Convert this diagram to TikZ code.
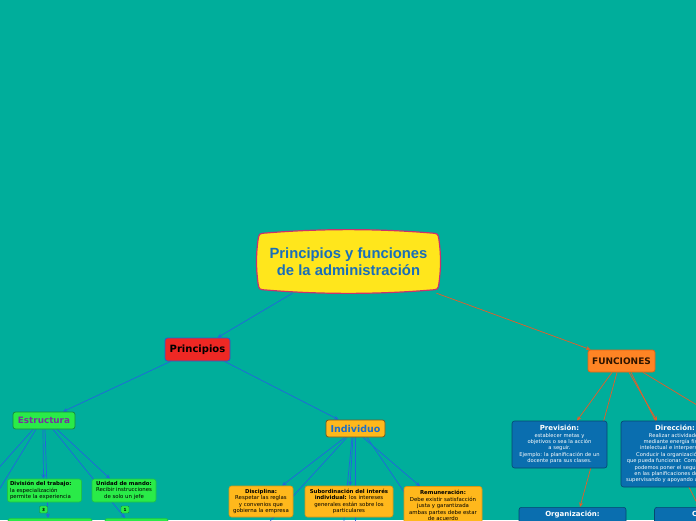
\documentclass[tikz,border=0pt]{standalone}
\usepackage{fontspec}
\setmainfont{DejaVu Sans}
\newfontfamily\rootfont{Liberation Sans}
\usetikzlibrary{arrows.meta,calc}
\pgfdeclarelayer{bg}
\pgfdeclarelayer{edges}
\pgfsetlayers{bg,edges,main}
\newcommand\mytitlefont{\bfseries\fontsize{7}{8}\selectfont}
\definecolor{tealbg}{RGB}{0,174,155}
\definecolor{lineblue}{RGB}{34,102,220}
\definecolor{lineorange}{RGB}{232,92,40}
\definecolor{rootfill}{RGB}{255,230,28}
\definecolor{rootdraw}{RGB}{200,50,110}
\definecolor{roottext}{RGB}{25,110,185}
\definecolor{redfill}{RGB}{238,40,36}
\definecolor{reddraw}{RGB}{40,90,210}
\definecolor{greenfill}{RGB}{42,235,72}
\definecolor{greendraw}{RGB}{22,140,62}
\definecolor{greenlight}{RGB}{30,195,70}
\definecolor{purpletext}{RGB}{120,50,160}
\definecolor{ambfill}{RGB}{255,184,28}
\definecolor{ambdraw}{RGB}{120,90,30}
\definecolor{ambtext}{RGB}{30,110,200}
\definecolor{ambchild}{RGB}{215,150,20}
\definecolor{orgfill}{RGB}{255,132,36}
\definecolor{orgdraw}{RGB}{225,100,20}
\definecolor{orgtext}{RGB}{45,20,0}
\definecolor{bluefill}{RGB}{10,110,175}
\definecolor{bluedraw}{RGB}{5,72,112}
\tikzset{
  bedge/.style={draw=lineblue, line width=0.7pt},
  oedge/.style={draw=lineorange, line width=0.7pt},
  tip/.style={-{Stealth[length=4.5pt,width=4pt]}},
  rootbox/.style={inner sep=0pt, minimum width=183pt, minimum height=63pt, align=center,
     text=roottext, font=\rootfont\bfseries\fontsize{14.8}{16.5}\selectfont},
  topicbox/.style={draw, rounded corners=2.5pt, line width=0.8pt, inner sep=0pt, align=center},
  childbox/.style={draw, rounded corners=2.5pt, line width=0.6pt, inner sep=0pt, align=center,
     font=\fontsize{5.4}{6.5}\selectfont},
  greenchild/.style={childbox, fill=greenfill, draw=greenlight, text=black},
  ambchildbox/.style={childbox, fill=ambfill, draw=ambchild, text=black},
  bluechild/.style={childbox, fill=bluefill, draw=bluedraw, text=white, font=\fontsize{5.2}{6.4}\selectfont},
  numlabel/.style={draw=greendraw, fill=greenfill, rounded corners=1pt, line width=0.4pt,
     inner sep=0pt, minimum width=8pt, minimum height=7pt, font=\fontsize{4.2}{5}\selectfont\bfseries}
}
\begin{document}
\begin{tikzpicture}[x=1pt,y=-1pt]
\useasboundingbox (0,0) rectangle (696,520);
\begin{pgfonlayer}{bg}
\fill[tealbg] (0,0) rectangle (696,520);
\end{pgfonlayer}

\begin{scope}
\clip (0,0) rectangle (696,520);
% root shape
\filldraw[fill=rootfill, draw=rootdraw, line width=1.2pt]
  (266,233) .. controls (320,228.5) and (377,228.5) .. (431,233)
  .. controls (438,233.5) .. (439,240)
  .. controls (441,255) and (441,268) .. (439,283)
  .. controls (438,289.5) .. (431,290)
  .. controls (377,294.5) and (320,294.5) .. (266,290)
  .. controls (259,289.5) .. (258,283)
  .. controls (256,268) and (256,255) .. (258,240)
  .. controls (259,233.5) .. cycle;
\node[rootbox] (root) at (348.5,261.5) {Principios y funciones\\de la administración};

\node[topicbox, fill=redfill, draw=reddraw, minimum width=65pt, minimum height=23pt,
      font=\bfseries\fontsize{10}{12}\selectfont] (princ) at (197.5,349.5) {Principios};
\node[topicbox, fill=greenfill, draw=greendraw, text=purpletext, minimum width=62pt, minimum height=17pt,
      font=\bfseries\fontsize{8.8}{10}\selectfont] (estr) at (44,420.5) {Estructura};
\node[topicbox, fill=ambfill, draw=ambdraw, text=ambtext, minimum width=59pt, minimum height=17pt,
      font=\bfseries\fontsize{9.5}{11}\selectfont] (indiv) at (355.5,428.5) {Individuo};
\node[topicbox, fill=orgfill, draw=orgdraw, text=orgtext, minimum width=67pt, minimum height=22pt,
      font=\bfseries\fontsize{9}{10}\selectfont] (func) at (621.5,361) {FUNCIONES};

% Estructura children
\node[greenchild, align=left, minimum width=74pt, minimum height=23pt, text width=69pt] (divi) at (44.5,490.5)
  {{\bfseries División del trabajo:}\\la especialización\\permite la experiencia};
\node[greenchild, minimum width=64pt, minimum height=23pt] (unid) at (124,490.5)
  {{\bfseries Unidad de mando:}\\Recibir instrucciones\\de solo un jefe};
\node[greenchild, anchor=north, minimum width=84pt, minimum height=30pt] (low1) at (50,518) {};
\node[greenchild, anchor=north, minimum width=63pt, minimum height=30pt] (low2) at (136.5,518) {};
\node[numlabel] (lab3) at (43.5,509.5) {3};
\node[numlabel] (lab1) at (125,509.5) {1};

% Individuo children
\node[ambchildbox, minimum width=64pt, minimum height=31pt] (disc) at (261,501.5)
  {{\bfseries Disciplina:}\\Respetar las reglas\\y convenios que\\gobierna la empresa};
\node[ambchildbox, minimum width=88pt, minimum height=31pt] (subo) at (349,501.5)
  {{\bfseries Subordinación del interés}\\{\bfseries individual:} los intereses\\generales están sobre los\\particulares};
\node[ambchildbox, minimum width=78pt, minimum height=38pt] (remu) at (443,505.5)
  {{\bfseries Remuneración:}\\Debe existir satisfacción\\justa y garantizada\\ambas partes debe estar\\de acuerdo};

% Funciones children
\node[bluechild, minimum width=95pt, minimum height=47pt] (prev) at (559.5,444.5)
  {{\mytitlefont Previsión:}\\establecer metas y\\objetivos o sea la acción\\a seguir.\\Ejemplo: la planificación de un\\docente para sus clases.};
\node[bluechild, minimum width=108pt, minimum height=66pt] (dire) at (675,454)
  {{\mytitlefont Dirección:}\\Realizar actividades\\mediante energía física,\\intelectual e interpersonal.\\Conducir la organización para\\que pueda funcionar. Como ejemplo,\\podemos poner el seguimiento\\en las planificaciones docentes\\supervisando y apoyando al docente.};
\node[bluechild, anchor=north, minimum width=107pt, inner ysep=3.5pt, text depth=20pt,
      font=\mytitlefont] (orga) at (572.5,507) {Organización:};
\node[bluechild, anchor=north, minimum width=107pt, inner ysep=3.5pt, text depth=20pt,
      font=\mytitlefont] (cont) at (708,507) {Control:};
\end{scope}

\coordinate (offL1) at (-20,489);
\coordinate (offL2) at (-20,521);
\coordinate (offI1) at (262,530);
\coordinate (offI2) at (355,530);
\coordinate (offI3) at (343,530);
\coordinate (offI4) at (430,530);
\coordinate (offF) at (740,431);

\begin{pgfonlayer}{edges}
\begin{scope}
\clip (0,0) rectangle (696,520);
\draw[bedge,tip] ([xshift=-56]root.south) -- ([xshift=20]princ.north);
\draw[bedge,tip] ([xshift=-27]princ.south) -- ([xshift=19]estr.north);
\draw[bedge,tip] ([xshift=27]princ.south) -- ([xshift=-17]indiv.north);
% Estructura
\draw[bedge] ([xshift=-11]estr.south) -- (offL1);
\draw[bedge] ([xshift=-8]estr.south) -- (offL2);
\draw[bedge,tip] ([xshift=-1]estr.south) -- ([xshift=-1]divi.north);
\draw[bedge,tip] ([xshift=1]estr.south) -- ([xshift=-2]low1.north);
\draw[bedge,tip] ([xshift=9]estr.south) -- ([xshift=-11.5]low2.north);
\draw[bedge,tip] ([xshift=13]estr.south) -- ([xshift=-14]unid.north);
% Individuo
\draw[bedge,tip] ([xshift=-10.5]indiv.south) -- ([xshift=21]disc.north);
\draw[bedge] ([xshift=-8.5]indiv.south) -- (offI1);
\draw[bedge,tip] ([xshift=-2.5]indiv.south) -- ([xshift=1]subo.north);
\draw[bedge] ([xshift=-0.5]indiv.south) -- (offI2);
\draw[bedge] ([xshift=-3.5]indiv.south) -- (offI3);
\draw[bedge,tip] ([xshift=7.5]indiv.south) -- ([xshift=-23]remu.north);
\draw[bedge] ([xshift=11.5]indiv.south) -- (offI4);
% Funciones
\draw[oedge,tip] ([xshift=88]root.south) -- ([xshift=-31]func.north);
\draw[oedge,tip] ([xshift=-9.5]func.south) -- ([xshift=17.5]prev.north);
\draw[oedge,tip] ([xshift=-4.5]func.south) -- ([xshift=7.5]orga.north);
\draw[oedge,tip] ([xshift=7.5]func.south) -- ([xshift=-18]dire.north);
\draw[oedge,tip] ([xshift=9.5]func.south) -- ([xshift=-9]cont.north);
\draw[oedge] ([xshift=21.5]func.south) -- (offF);
\end{scope}
\end{pgfonlayer}
\end{tikzpicture}
\end{document}
